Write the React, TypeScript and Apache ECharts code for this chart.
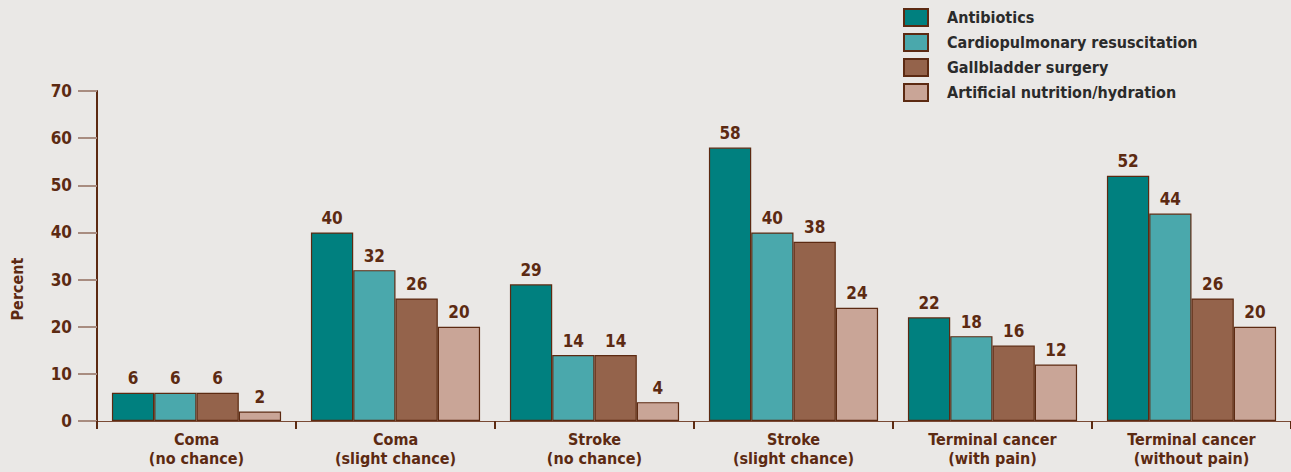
import React, { useEffect, useRef } from "react";
import * as echarts from "echarts";

const categories = [
  "Coma\n(no chance)",
  "Coma\n(slight chance)",
  "Stroke\n(no chance)",
  "Stroke\n(slight chance)",
  "Terminal cancer\n(with pain)",
  "Terminal cancer\n(without pain)",
];
const seriesNames = [
  "Antibiotics",
  "Cardiopulmonary resuscitation",
  "Gallbladder surgery",
  "Artificial nutrition/hydration",
];
const antibiotics = [6, 40, 29, 58, 22, 52];
const cpr = [6, 32, 14, 40, 18, 44];
const gallbladder = [6, 26, 14, 38, 16, 26];
const nutrition = [2, 20, 4, 24, 12, 20];
const yTicks = [0, 10, 20, 30, 40, 50, 60, 70];

const colors = ["#00807f", "#4aa8ac", "#94634b", "#c9a597"];
const dark = "#5c2a12";
const font = "'Liberation Sans Narrow', 'DejaVu Sans Condensed', sans-serif";

export default function App() {
  const ref = useRef<HTMLDivElement>(null);
  useEffect(() => {
    document.body.style.margin = "0";
    const chart = echarts.init(ref.current!, null, { renderer: "svg" });
    const data = [antibiotics, cpr, gallbladder, nutrition];
    chart.setOption({
      animation: false,
      backgroundColor: "#eae8e6",
      textStyle: { fontFamily: font },
      legend: {
        orient: "vertical",
        left: 898,
        top: 3,
        itemWidth: 24,
        itemHeight: 17,
        itemGap: 6,
        icon: "rect",
        textStyle: {
          fontFamily: font,
          fontSize: 16,
          lineHeight: 17,
          fontWeight: "bold",
          color: "#2b2b2b",
          padding: [0, 0, 0, 14],
        },
        data: seriesNames,
      },
      grid: { left: 97, right: 0, top: 91, bottom: 51 },
      xAxis: {
        type: "category",
        data: categories,
        axisLine: { lineStyle: { color: "#7a4a35", width: 1 } },
        axisTick: { show: true, length: 8, lineStyle: { color: dark, width: 2 } },
        axisLabel: {
          fontFamily: font,
          fontSize: 16,
          fontWeight: "bold",
          color: dark,
          lineHeight: 19,
          margin: 9,
        },
      },
      yAxis: {
        type: "value",
        min: 0,
        max: 70,
        interval: 10,
        splitLine: { show: false },
        axisLine: { show: true, lineStyle: { color: dark, width: 2 } },
        axisTick: { show: true, length: 19, lineStyle: { color: "#a88c80", width: 2 } },
        axisLabel: {
          fontFamily: font,
          fontSize: 17,
          fontWeight: "bold",
          color: dark,
          margin: 25,
          formatter: (v: number) => (yTicks.includes(v) ? String(v) : ""),
        },
      },
      graphic: [
        {
          type: "text",
          x: 17,
          y: 289,
          rotation: Math.PI / 2,
          style: {
            text: "Percent",
            fontFamily: font,
            fontSize: 16,
            fontWeight: "bold",
            fill: dark,
            textAlign: "center",
            textVerticalAlign: "middle",
          },
        },
      ],
      series: seriesNames.map((name, i) => ({
        name,
        type: "bar",
        data: data[i],
        barGap: "0%",
        barCategoryGap: "15%",
        itemStyle: { color: colors[i], borderColor: dark, borderWidth: 1.2 },
        label: {
          show: true,
          position: "top",
          distance: 6,
          fontFamily: font,
          fontSize: 17,
          fontWeight: "bold",
          color: dark,
        },
      })),
    });
    return () => chart.dispose();
  }, []);
  return <div ref={ref} style={{ width: 1291, height: 472 }} />;
}
